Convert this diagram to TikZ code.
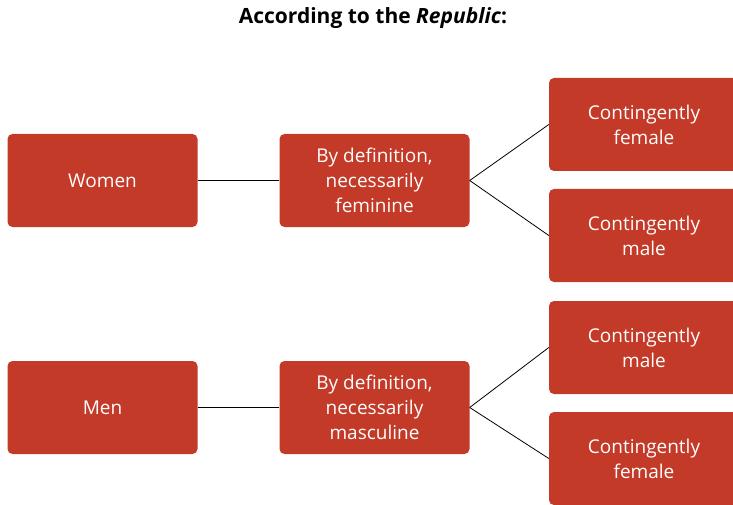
\documentclass[tikz,border=0pt]{standalone}
\usepackage{fontspec}
\setmainfont{Open Sans}
\definecolor{boxred}{RGB}{195,58,40}
\begin{document}
\begin{tikzpicture}[x=1pt, y=-1pt,
		box/.style={fill=boxred, text=white, rounded corners=5pt, minimum width=190pt, minimum height=93pt, align=center, inner sep=0pt, font=\fontsize{19}{25}\selectfont},
		link/.style={black, line width=0.8pt}]
		\clip (0,0) rectangle (733,505);

		\node (title) at (373,18) {\fontsize{21}{25}\selectfont\bfseries According to the \textit{Republic}:};

		\node[box] (women) at (102.5,180.5) {Women};
		\node[box] (deffem) at (374.5,180.5) {By definition,\\necessarily\\feminine};
		\node[box] (femfem) at (644,124.5) {Contingently\\female};
		\node[box] (femmale) at (644,235.5) {Contingently\\male};

		\node[box] (men) at (102.5,407.5) {Men};
		\node[box] (defmas) at (374.5,407.5) {By definition,\\necessarily\\masculine};
		\node[box] (masmale) at (644,347.5) {Contingently\\male};
		\node[box] (masfem) at (644,458.5) {Contingently\\female};

		\draw[link] (women) -- (deffem);
		\draw[link] (deffem.east) -- (femfem.west);
		\draw[link] (deffem.east) -- (femmale.west);
		\draw[link] (men) -- (defmas);
		\draw[link] (defmas.east) -- (masmale.west);
		\draw[link] (defmas.east) -- (masfem.west);
	\end{tikzpicture}
\end{document}
